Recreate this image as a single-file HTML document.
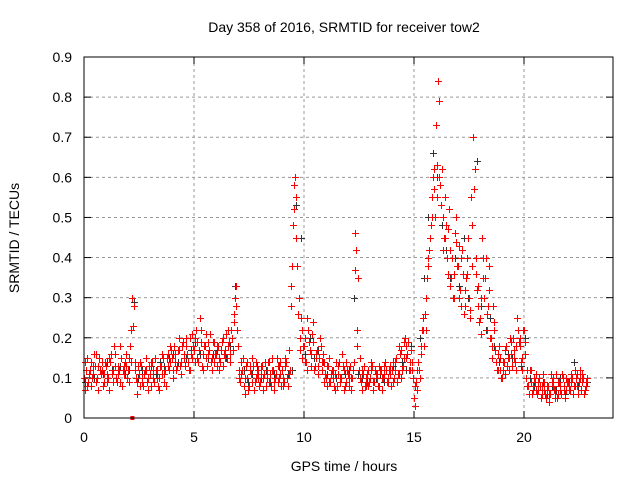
<!DOCTYPE html>
<html><head><meta charset="utf-8"><style>
html,body{margin:0;padding:0;background:#fff;}
svg text{font-family:"Liberation Sans",sans-serif;font-size:14px;fill:#000;}
</style></head><body>
<svg id="chart" width="640" height="480" viewBox="0 0 640 480" xmlns="http://www.w3.org/2000/svg">
<rect x="0" y="0" width="640" height="480" fill="#fff"/>
<g id="grid"></g>
<g id="ticks"></g>
<g id="black"></g>
<g id="red"></g>
<rect x="84" y="57" width="529" height="361" fill="none" stroke="#000" stroke-width="1"/>
<text x="344" y="32" text-anchor="middle">Day 358 of 2016, SRMTID for receiver tow2</text>
<text x="344" y="471" text-anchor="middle">GPS time / hours</text>
<text x="19" y="238" text-anchor="middle" transform="rotate(-90 19 238)">SRMTID / TECUs</text>
</svg>
<script>
const xTicks=[0,5,10,15,20];
const yTicks=[0,0.1,0.2,0.3,0.4,0.5,0.6,0.7,0.8,0.9];
const yTickLabels=["0","0.1","0.2","0.3","0.4","0.5","0.6","0.7","0.8","0.9"];
const redStep=0.1;
const redA=[.10,.12,.09,.14,.11,.13,.10,.15,.12,.11,
.13,.10,.14,.12,.16,.09,.12,.15,.11,.13,
.12,.18,.30,.14,.09,.11,.13,.08,.12,.10,
.11,.14,.09,.12,.10,.13,.15,.12,.16,.14,
.15,.18,.12,.17,.14,.19,.13,.16,.20,.15,
.17,.22,.14,.19,.16,.18,.13,.17,.15,.19,
.16,.18,.14,.20,.17,.15,.19,.22,.26,.33,
.18,.09,.12,.10,.14,.08,.11,.13,.10,.12,
.09,.13,.11,.10,.14,.08,.12,.10,.13,.11,
.12,.09,.14,.11,.28,.48,.60,.38,.20,.15,
.18,.14,.22,.16,.19,.13,.17,.15,.12,.14,
.10,.13,.09,.12,.11,.08,.14,.10,.12,.09,
.11,.13,.10,.46,.18,.12,.09,.11,.08,.12,
.10,.13,.09,.11,.08,.12,.10,.14,.09,.11,
.12,.10,.15,.11,.17,.13,.20,.16,.12,.14,
.05,.09,.14,.18,.22,.26,.35,.42,.55,.62,
.73,.84,.58,.50,.45,.40,.52,.35,.30,.44,
.38,.32,.42,.28,.36,.30,.55,.70,.40,.33,
.25,.45,.30,.22,.38,.20,.28,.17,.12,.15,
.10,.14,.18,.12,.16,.20,.14,.25,.18,.12,
.22,.10,.08,.12,.07,.09,.06,.10,.08,.07,
.05,.08,.06,.10,.07,.05,.09,.06,.08,.07,
.09,.07,.10,.08,.11,.09,.07,.10,.08];
const redB=[.14,.08,.12,.10,.16,.09,.13,.11,.08,.14,
.09,.15,.11,.18,.10,.13,.09,.12,.14,.10,
.15,.22,.28,.10,.13,.08,.10,.12,.09,.13,
.14,.10,.12,.08,.13,.11,.09,.15,.12,.17,
.12,.14,.17,.13,.18,.15,.20,.12,.16,.18,
.20,.15,.25,.13,.18,.21,.16,.14,.19,.16,
.13,.15,.19,.16,.21,.18,.14,.17,.30,.22,
.12,.14,.08,.13,.07,.12,.15,.09,.11,.08,
.13,.10,.08,.14,.11,.12,.09,.15,.10,.08,
.10,.13,.08,.12,.38,.58,.55,.30,.25,.18,
.14,.25,.17,.21,.12,.16,.13,.18,.16,.11,
.13,.09,.12,.08,.14,.11,.09,.13,.08,.12,
.08,.10,.14,.42,.35,.10,.12,.08,.11,.09,
.12,.09,.11,.08,.12,.10,.13,.09,.12,.08,
.09,.14,.11,.16,.12,.19,.15,.12,.17,.10,
.03,.12,.10,.22,.18,.30,.40,.48,.60,.50,
.55,.79,.62,.45,.48,.36,.42,.30,.46,.38,
.30,.40,.26,.35,.45,.27,.38,.62,.32,.24,
.30,.35,.40,.28,.20,.15,.22,.12,.18,.10,
.14,.11,.15,.20,.13,.17,.12,.19,.14,.22,
.16,.08,.12,.06,.10,.07,.09,.05,.11,.06,
.08,.04,.09,.07,.11,.06,.08,.10,.05,.09,
.07,.11,.08,.10,.06,.12,.09,.07,.10];
const redC=[.07,.15,.11,.08,.13,.16,.07,.12,.14,.09,
.11,.07,.16,.09,.13,.11,.18,.08,.13,.16,
.09,.14,.23,.12,.06,.14,.09,.11,.15,.07,
.08,.12,.15,.10,.07,.16,.11,.08,.13,.18,
.10,.16,.13,.20,.11,.16,.18,.14,.12,.21,
.14,.19,.17,.22,.12,.15,.19,.21,.12,.14,
.18,.12,.17,.13,.15,.22,.16,.20,.24,.28,
.10,.11,.15,.06,.10,.13,.09,.07,.14,.10,
.11,.07,.14,.12,.09,.15,.07,.11,.09,.14,
.08,.15,.10,.17,.33,.52,.45,.26,.17,.22,
.20,.12,.19,.13,.24,.15,.11,.20,.14,.09,
.08,.15,.11,.10,.07,.13,.10,.16,.07,.14,
.10,.07,.12,.37,.22,.15,.07,.13,.10,.08,
.14,.07,.12,.10,.13,.07,.11,.12,.10,.13,
.14,.12,.09,.18,.10,.15,.18,.19,.14,.12,
.08,.07,.12,.16,.25,.22,.38,.45,.50,.57,
.63,.60,.53,.42,.55,.47,.33,.40,.36,.50,
.43,.28,.36,.32,.40,.25,.48,.57,.36,.28,
.21,.40,.35,.26,.32,.18,.24,.14,.16,.12,
.12,.17,.13,.15,.19,.15,.18,.22,.20,.15,
.19,.12,.06,.09,.08,.11,.07,.08,.06,.09,
.07,.06,.11,.08,.05,.09,.07,.11,.07,.10,
.08,.09,.06,.12,.08,.10,.11,.06,.09];
const blackStep=0.2;
const blackVals=[.09,.12,.10,.13,.11,.14,.12,.10,.13,.11,
.12,.29,.10,.12,.09,.13,.11,.14,.13,.15,
.16,.14,.18,.15,.17,.19,.16,.18,.15,.16,
.17,.19,.15,.18,.33,.10,.12,.09,.11,.13,
.10,.12,.09,.11,.13,.10,.11,.12,.53,.45,
.16,.20,.15,.17,.14,.11,.12,.10,.09,.11,
.12,.30,.11,.10,.09,.12,.10,.11,.09,.12,
.13,.11,.14,.12,.18,.08,.20,.35,.50,.66,
.60,.48,.42,.35,.40,.33,.45,.30,.38,.64,
.28,.22,.25,.18,.14,.12,.16,.15,.18,.13,
.20,.10,.08,.07,.09,.06,.08,.07,.10,.06,
.09,.14,.08,.10,.09];
const squareT=[2.2];
const squareV=[0];

const X0=84,X1=612,Y0=418,Y1=57;
const xs=t=>X0+(t/24)*(X1-X0);
const ys=v=>Y0-(v/0.9)*(Y0-Y1);
const NS="http://www.w3.org/2000/svg";
function mk(tag,attrs,parent){const e=document.createElementNS(NS,tag);for(const k in attrs)e.setAttribute(k,attrs[k]);parent.appendChild(e);return e;}
const grid=document.getElementById('grid'),ticks=document.getElementById('ticks');
xTicks.forEach(t=>{
  const x=xs(t);
  if(t>0){const g=mk('line',{x1:x,x2:x,y1:Y1,y2:Y0,stroke:'#999','stroke-dasharray':'3,3'},grid);
  
  }
  const a=mk('line',{x1:x,x2:x,y1:Y0,y2:Y0-7,stroke:'#000'},ticks);
  
  
  const b=mk('line',{x1:x,x2:x,y1:Y1,y2:Y1+7,stroke:'#000'},ticks);
  
  
  const l=mk('text',{x:x,y:Y0+24,'text-anchor':'middle'},ticks);l.textContent=String(t);
  
  
});
yTicks.forEach((v,i)=>{
  const y=ys(v);
  if(v>0&&v<0.9){const g=mk('line',{x1:X0,x2:613,y1:y,y2:y,stroke:'#999','stroke-dasharray':'3,3'},grid);
  
  }
  const a=mk('line',{x1:X0,x2:X0+7,y1:y,y2:y,stroke:'#000'},ticks);
  
  
  const b=mk('line',{x1:613,x2:606,y1:y,y2:y,stroke:'#000'},ticks);
  
  
  const l=mk('text',{x:X0-12,y:y+5,'text-anchor':'end'},ticks);l.textContent=yTickLabels[i];
  
  
});
function plus(g,t,v,col){
  const x=Math.round(xs(t))+0.5,y=Math.round(ys(v))+0.5;
  const p=mk('path',{d:`M${x-3.5} ${y}H${x+3.5}M${x} ${y-3.5}V${y+3.5}`,stroke:col,'stroke-width':1,fill:'none'},g);
  
  
}
const bg=document.getElementById('black'),rg=document.getElementById('red');
blackVals.forEach((v,i)=>plus(bg,i*blackStep+0.05,v,'#333'));
redA.forEach((v,i)=>plus(rg,i*redStep,v,'#f00'));
redB.forEach((v,i)=>plus(rg,i*redStep+0.05,v,'#f00'));
redC.forEach((v,i)=>plus(rg,i*redStep+0.03,v,'#f00'));
squareT.forEach((t,i)=>{
  const s=mk('rect',{x:xs(t)-2,y:ys(squareV[i])-2,width:4,height:4,fill:'#f00'},rg);
  
  
});
</script>
</body></html>
